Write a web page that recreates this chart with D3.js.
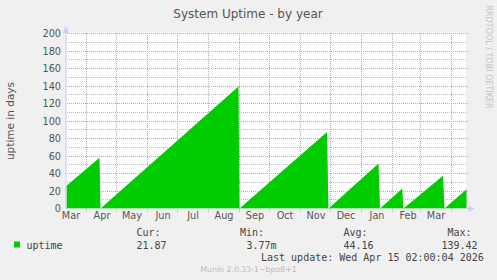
<!DOCTYPE html>
<html>
<head>
<meta charset="utf-8">
<script src="https://cdn.jsdelivr.net/npm/d3@7"></script>
<style>
  body { margin: 0; background: #f0f0f0; }
  svg { display: block; }
</style>
</head>
<body>
<div id="chart"></div>
<script>
// Uptime vertices (days). Between them rrdtool draws straight ramps.
var pointDates = [
    "2025-03-12T12:00", "2025-04-14T12:00", "2025-04-15T12:00",
    "2025-08-31T12:00", "2025-09-01T12:00",
    "2025-11-28T00:00", "2025-11-29T12:00",
    "2026-01-18T12:00", "2026-01-20T00:00",
    "2026-02-11T06:00", "2026-02-12T12:00",
    "2026-03-24T00:00", "2026-03-25T12:00",
    "2026-04-16T12:00"
];
var pointValues = [26, 58, 0, 139.42, 0, 87.4, 0, 51.4, 0, 22.9, 0, 37.3, 0, 21.87];

var monthLabels = ["Mar", "Apr", "May", "Jun", "Jul", "Aug", "Sep", "Oct", "Nov", "Dec", "Jan", "Feb", "Mar"];
var yTicks = [0, 20, 40, 60, 80, 100, 120, 140, 160, 180, 200];

var legendHeads = ["Cur:", "Min:", "Avg:", "Max:"];
var legendValues = ["21.87", "3.77m", "44.16", "139.42"];

var svgWidth = 497;
var svgHeight = 280;
var plot = { left: 66.5, top: 33.5, width: 400, height: 175 };

var parse = d3.timeParse("%Y-%m-%dT%H:%M");
var data = pointDates.map(function(d, i) {
    return { date: parse(d), value: pointValues[i] };
});

var svg = d3.select("#chart")
    .append("svg")
    .attr("width", svgWidth)
    .attr("height", svgHeight);

svg.append("rect")
    .attr("width", svgWidth)
    .attr("height", svgHeight)
    .attr("fill", "#f0f0f0");

// scales
var xScale = d3.scaleTime()
    .domain([parse("2025-03-12T12:00"), parse("2026-04-16T12:00")])
    .range([plot.left, plot.left + plot.width]);
var yScale = d3.scaleLinear()
    .domain([0, 200])
    .range([plot.top + plot.height, plot.top]);

// white canvas
svg.append("rect")
    .attr("x", plot.left - 0.5)
    .attr("y", plot.top - 1)
    .attr("width", plot.width)
    .attr("height", plot.height + 1)
    .attr("fill", "#ffffff");

var crisp = function(v) { return Math.floor(v) + 0.5; };

// minor horizontal grid (every 10), dots on whole pixels
var minor = d3.range(10, 200, 20);
svg.append("g").selectAll("line")
    .data(minor)
    .enter()
    .append("line")
    .attr("x1", 67)
    .attr("x2", 467)
    .attr("y1", d => crisp(yScale(d)))
    .attr("y2", d => crisp(yScale(d)))
    .attr("stroke", "#bdbdbd")
    .attr("stroke-dasharray", "1,1");

// major horizontal grid
svg.append("g").selectAll("line")
    .data(yTicks.slice(1))
    .enter()
    .append("line")
    .attr("x1", 67)
    .attr("x2", 469)
    .attr("y1", d => crisp(yScale(d)))
    .attr("y2", d => crisp(yScale(d)))
    .attr("stroke", "#ee9494")
    .attr("stroke-dasharray", "1,1");

// month grid
var months = d3.timeMonth.range(parse("2025-04-01T00:00"), parse("2026-04-02T00:00"));
svg.append("g").selectAll("line")
    .data(months)
    .enter()
    .append("line")
    .attr("x1", d => crisp(xScale(d)))
    .attr("x2", d => crisp(xScale(d)))
    .attr("y1", 33)
    .attr("y2", 212)
    .attr("stroke", "#ee9494")
    .attr("stroke-dasharray", "1,1");

// the uptime area
var area = d3.area()
    .x(d => xScale(d.date))
    .y0(yScale(0))
    .y1(d => yScale(d.value));

svg.append("path")
    .datum(data)
    .attr("d", area)
    .attr("fill", "#00cc00");

// axes with arrows
svg.append("line")
    .attr("x1", plot.left)
    .attr("x2", plot.left + plot.width)
    .attr("y1", 208.5)
    .attr("y2", 208.5)
    .attr("stroke", "#a8e4a8");
svg.append("line")
    .attr("x1", plot.left + plot.width)
    .attr("x2", plot.left + plot.width + 3)
    .attr("y1", 208.5)
    .attr("y2", 208.5)
    .attr("stroke", "#c8cff8");
svg.append("path")
    .attr("d", `M${plot.left + plot.width + 2},205 L${plot.left + plot.width + 8},208.5 L${plot.left + plot.width + 2},212 Z`)
    .attr("fill", "#c8cff8");
svg.append("line")
    .attr("x1", 66)
    .attr("x2", 66)
    .attr("y1", 30)
    .attr("y2", 209)
    .attr("stroke", "#c8cff8");
svg.append("path")
    .attr("d", "M62.5,33 L66,26 L69.5,33 Z")
    .attr("fill", "#c8cff8");

// y tick labels
svg.append("g").selectAll("text")
    .data(yTicks)
    .enter()
    .append("text")
    .attr("x", 61)
    .attr("y", d => yScale(d) + 3.5)
    .attr("text-anchor", "end")
    .attr("font-family", "DejaVu Sans")
    .attr("font-size", "9.7px")
    .attr("fill", "#555")
    .text(d => d);

// month labels at mid month
var labelDates = d3.timeMonth.range(parse("2025-03-01T00:00"), parse("2026-04-01T00:00"));
svg.append("g").selectAll("text")
    .data(labelDates)
    .enter()
    .append("text")
    .attr("x", d => xScale(d3.timeDay.offset(d, 15)) + 1)
    .attr("y", 219)
    .attr("text-anchor", "middle")
    .attr("font-family", "DejaVu Sans")
    .attr("font-size", "9.7px")
    .attr("fill", "#555")
    .text((d, i) => monthLabels[i]);

// title and axis label
svg.append("text")
    .attr("x", 248)
    .attr("y", 18)
    .attr("text-anchor", "middle")
    .attr("font-family", "DejaVu Sans")
    .attr("font-size", "12px")
    .attr("fill", "#555")
    .text("System Uptime - by year");

svg.append("text")
    .attr("transform", "translate(14,121) rotate(-90)")
    .attr("text-anchor", "middle")
    .attr("font-family", "DejaVu Sans")
    .attr("font-size", "10.5px")
    .attr("fill", "#555")
    .text("uptime in days");

svg.append("text")
    .attr("transform", "translate(486,57) rotate(90)")
    .attr("text-anchor", "middle")
    .attr("font-family", "DejaVu Sans")
    .attr("font-size", "8px")
    .attr("fill", "#c4c4c4")
    .text("RRDTOOL / TOBI OETIKER");

// legend
var legendX = [136.5, 240, 343.5, 447.5];
var valueX = [136.5, 246.5, 343.5, 441.5];
var mono = "DejaVu Sans Mono";

svg.append("rect")
    .attr("x", 14)
    .attr("y", 241.5)
    .attr("width", 6)
    .attr("height", 6)
    .attr("fill", "#00cc00");
svg.append("text")
    .attr("x", 26.5)
    .attr("y", 248.5)
    .attr("font-family", mono)
    .attr("font-size", "10px")
    .attr("fill", "#444")
    .text("uptime");

svg.append("g").selectAll("text")
    .data(legendHeads)
    .enter()
    .append("text")
    .attr("x", (d, i) => legendX[i])
    .attr("y", 236)
    .attr("font-family", mono)
    .attr("font-size", "10px")
    .attr("fill", "#444")
    .text(d => d);

svg.append("g").selectAll("text")
    .data(legendValues)
    .enter()
    .append("text")
    .attr("x", (d, i) => valueX[i])
    .attr("y", 248.5)
    .attr("font-family", mono)
    .attr("font-size", "10px")
    .attr("fill", "#444")
    .text(d => d);

svg.append("text")
    .attr("x", 261)
    .attr("y", 260.5)
    .attr("font-family", mono)
    .attr("font-size", "10px")
    .attr("fill", "#444")
    .text("Last update: Wed Apr 15 02:00:04 2026");

svg.append("text")
    .attr("x", 248.5)
    .attr("y", 272)
    .attr("text-anchor", "middle")
    .attr("font-family", "DejaVu Sans")
    .attr("font-size", "7.8px")
    .attr("fill", "#bbb")
    .text("Munin 2.0.33-1~bpo8+1");
</script>
</body>
</html>
